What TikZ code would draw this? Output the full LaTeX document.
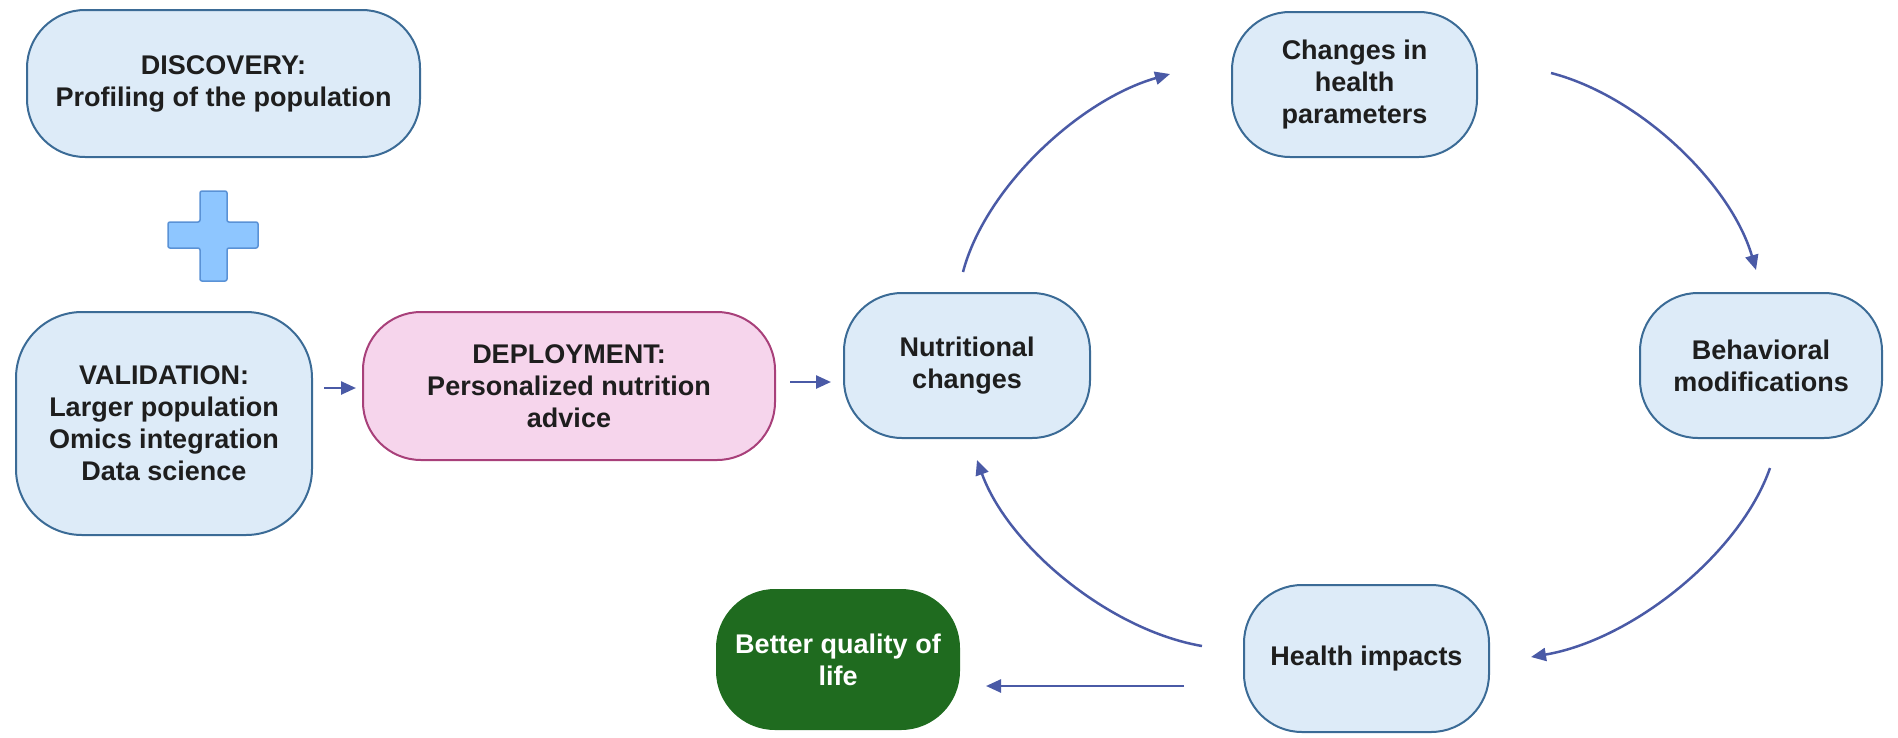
\documentclass[tikz,border=0pt]{standalone}
\usepackage{fontspec}
\setmainfont{Liberation Sans}
\usetikzlibrary{arrows.meta}
\definecolor{boxblue}{HTML}{DDEBF8}
\definecolor{lineblue}{HTML}{3B6B96}
\definecolor{boxpink}{HTML}{F6D5EC}
\definecolor{linepink}{HTML}{A8407A}
\definecolor{boxgreen}{HTML}{1F6B1F}
\definecolor{arrowc}{HTML}{4A5AA6}
\definecolor{plusfill}{HTML}{8EC6FF}
\definecolor{plusline}{HTML}{5A92D6}
\definecolor{txt}{HTML}{1E1E1E}
\begin{document}
\begin{tikzpicture}[x=1pt,y=-1pt,
  stage/.style={draw=lineblue, line width=2pt, fill=boxblue, rounded corners=58pt,
    align=center, inner sep=0pt, text=txt, font=\bfseries\fontsize{27}{32}\selectfont},
  pinkstage/.style={stage, draw=linepink, fill=boxpink},
  greenstage/.style={stage, draw=boxgreen, fill=boxgreen, text=white},
  flow/.style={draw=arrowc, line width=2.5pt, -{Triangle[length=15pt,width=13pt]}}
]
\useasboundingbox (0,0) rectangle (1898,737);

\node[stage, minimum width=393pt, minimum height=147pt] (disc) at (223.5,83.5)
  {DISCOVERY:\\Profiling of the population};
\node[stage, minimum width=296pt, minimum height=223pt, rounded corners=66pt] (val) at (164,423.5)
  {VALIDATION:\\Larger population\\Omics integration\\Data science};
\node[pinkstage, minimum width=412pt, minimum height=148pt] (dep) at (569,386)
  {DEPLOYMENT:\\Personalized nutrition\\advice};
\node[stage, minimum width=246pt, minimum height=145pt] (nut) at (967,365.5)
  {Nutritional\\changes};
\node[stage, minimum width=245pt, minimum height=145pt] (chg) at (1354.5,84.5)
  {Changes in\\health\\parameters};
\node[stage, minimum width=242pt, minimum height=145pt] (beh) at (1761,365.5)
  {Behavioral\\modifications};
\node[stage, minimum width=245pt, minimum height=147pt] (hi) at (1366.5,658.5)
  {Health impacts};
\node[greenstage, minimum width=242pt, minimum height=139pt] (bq) at (838,659.5)
  {Better quality of\\life};

% plus sign
\draw[fill=plusfill, draw=plusline, line width=1.5pt, rounded corners=2pt]
  (200,191) -- (227,191) -- (227,222) -- (258,222) -- (258,248) -- (227,248)
  -- (227,281) -- (200,281) -- (200,248) -- (168,248) -- (168,222) -- (200,222) -- cycle;

% straight connectors
\draw[flow, shorten <=11pt, shorten >=6pt] (val.east |- 0,388) coordinate (v1) -- (dep.west |- 0,388) coordinate (d1);
\draw[flow, shorten <=14pt, shorten >=12pt] (dep.east |- 0,382) coordinate (d2) -- (nut.west |- 0,382) coordinate (n1);

% cycle connectors
\coordinate (a1s) at (963,272);  \coordinate (a1e) at (1170,74);
\coordinate (a2s) at (1551,73);  \coordinate (a2e) at (1756,270);
\coordinate (a3s) at (1770,468); \coordinate (a3e) at (1531,657);
\coordinate (a4s) at (1202,646); \coordinate (a4e) at (977,460);
\coordinate (a5s) at (1184,686); \coordinate (a5e) at (986,686);

\draw[flow] (a1s) .. controls (985,188) and (1079,100) .. (a1e);
\draw[flow] (a2s) .. controls (1640,96) and (1731,184) .. (a2e);
\draw[flow] (a3s) .. controls (1740,554) and (1632,640) .. (a3e);
\draw[flow] (a4s) .. controls (1109,630) and (1008,546) .. (a4e);
\draw[flow] (a5s) -- (a5e);
\end{tikzpicture}
\end{document}
